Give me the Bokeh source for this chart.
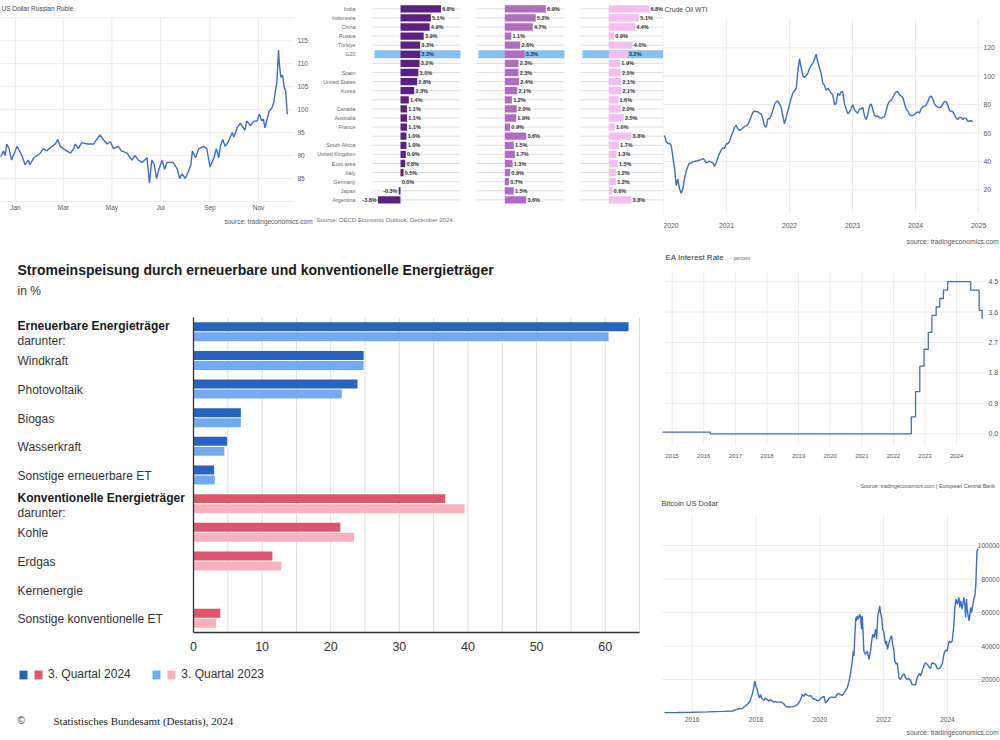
import pandas as pd
from bokeh.plotting import figure
from bokeh.layouts import row, column
from bokeh.models import (ColumnDataSource, Range1d, LabelSet, Label, Legend, LegendItem,
                          BoxAnnotation)
from bokeh.transform import dodge
from bokeh.core.properties import value
from bokeh.embed import file_html
from bokeh.resources import INLINE

SANS = "Liberation Sans"
SERIF = "Liberation Serif"

# ---------------- Destatis: Stromeinspeisung ----------------
energy_categories = ["Erneuerbare Energieträger", "Windkraft", "Photovoltaik", "Biogas",
                     "Wasserkraft", "Sonstige erneuerbare ET", "Konventionelle Energieträger",
                     "Kohle", "Erdgas", "Kernenergie", "Sonstige konventionelle ET"]
energy_group = ["ren", "ren", "ren", "ren", "ren", "ren", "con", "con", "con", "con", "con"]
share_q3_2024 = [63.4, 24.8, 23.9, 6.9, 4.9, 3.0, 36.7, 21.4, 11.5, 0.0, 3.9]
share_q3_2023 = [60.5, 24.8, 21.6, 6.9, 4.5, 3.1, 39.5, 23.4, 12.8, 0.0, 3.3]
legend_labels = ["3. Quartal 2024", "3. Quartal 2023"]
energy_xticks = [0, 10, 20, 30, 40, 50, 60]
energy_grid = [0, 5, 10, 15, 20, 25, 30, 35, 40, 45, 50, 55, 60, 65]

# ---------------- OECD GDP growth ----------------
oecd_countries = ["India", "Indonesia", "China", "Russia", "Türkiye", "G20", "", "Spain",
                  "United States", "Korea", "", "Canada", "Australia", "France", "",
                  "South Africa", "United Kingdom", "Euro area", "Italy", "Germany", "Japan",
                  "Argentina"]
oecd_2024 = [6.8, 5.1, 4.9, 3.9, 3.3, 3.3, 3.2, 3.0, 2.8, 2.3, 1.4, 1.1, 1.1, 1.1, 1.0,
             1.0, 0.9, 0.8, 0.5, 0.0, -0.3, -3.8]
oecd_2025 = [6.9, 5.2, 4.7, 1.1, 2.6, 3.3, 2.3, 2.3, 2.4, 2.1, 1.2, 2.0, 1.9, 0.9, 3.6,
             1.5, 1.7, 1.3, 0.9, 0.7, 1.5, 3.6]
oecd_2026 = [6.8, 5.1, 4.4, 0.9, 4.0, 3.2, 1.9, 2.0, 2.1, 2.1, 1.6, 2.0, 2.5, 1.0, 3.8,
             1.7, 1.3, 1.5, 1.2, 1.2, 0.6, 3.8]

# ---------------- US Dollar Russian Ruble ----------------
rub_dates = ["2023-12-13", "2023-12-17", "2023-12-19", "2023-12-21", "2023-12-24", "2023-12-27", "2024-01-03", "2024-01-09", "2024-01-13", "2024-01-17",
             "2024-01-19", "2024-01-24", "2024-02-01", "2024-02-05", "2024-02-09", "2024-02-16", "2024-02-20", "2024-02-23", "2024-02-26", "2024-03-05",
             "2024-03-10", "2024-03-14", "2024-03-16", "2024-03-20", "2024-03-24", "2024-03-31", "2024-04-08", "2024-04-12", "2024-04-16", "2024-04-20",
             "2024-04-25", "2024-04-29", "2024-05-03", "2024-05-09", "2024-05-13", "2024-05-20", "2024-05-26", "2024-05-30", "2024-06-03", "2024-06-08",
             "2024-06-14", "2024-06-17", "2024-06-20", "2024-06-23", "2024-06-26", "2024-06-29", "2024-07-03", "2024-07-06", "2024-07-09", "2024-07-17",
             "2024-07-22", "2024-07-25", "2024-07-28", "2024-08-01", "2024-08-05", "2024-08-08", "2024-08-10", "2024-08-14", "2024-08-18", "2024-08-24",
             "2024-08-28", "2024-09-01", "2024-09-06", "2024-09-09", "2024-09-12", "2024-09-14", "2024-09-17", "2024-09-20", "2024-09-24", "2024-09-29",
             "2024-10-01", "2024-10-05", "2024-10-09", "2024-10-15", "2024-10-17", "2024-10-22", "2024-10-26", "2024-10-30", "2024-11-02", "2024-11-05",
             "2024-11-07", "2024-11-09", "2024-11-14", "2024-11-18", "2024-11-20", "2024-11-22", "2024-11-24", "2024-11-26", "2024-11-27", "2024-11-29",
             "2024-12-01", "2024-12-03", "2024-12-05", "2024-12-07"]
rub_values = [89.6, 91, 90, 92.5, 91.5, 89, 92, 90, 88, 89,
              88, 89.5, 90.5, 91.5, 91, 92, 92.5, 93.5, 92, 91,
              90.5, 91.5, 92.5, 91.5, 92.8, 92.5, 92.5, 93.5, 94.5, 93.5,
              92.5, 93, 91.5, 92, 91, 90.5, 89, 90, 89, 88.5,
              89.5, 84, 89, 88, 85, 87, 89, 87, 88.5, 88.5,
              87, 85, 86, 85, 86.5, 88, 91, 89.5, 91.5, 92,
              91.5, 87.5, 89.5, 91.5, 89.5, 92, 93.5, 92, 93, 95,
              94, 96, 97, 95.5, 97.5, 96.5, 97.5, 97.5, 99, 97.5,
              98, 96, 99.5, 100.5, 101.5, 104, 106, 113, 110, 107,
              107.5, 105, 104, 99]
rub_yticks = [85, 90, 95, 100, 105, 110, 115]
rub_ygrid = [80, 85, 90, 95, 100, 105, 110, 115, 120]
rub_month_ticks = ["2024-01-01", "2024-03-01", "2024-05-01", "2024-07-01", "2024-09-01", "2024-11-01"]
rub_month_labels = ["Jan", "Mar", "May", "Jul", "Sep", "Nov"]

# ---------------- Crude Oil WTI (evenly spaced samples) ----------------
wti_first, wti_last = "2020-01-07", "2024-11-28"
wti_values = [58.3, 54, 52.5, 52.8, 51.2, 43, 35, 23, 27.7, 20.5,
              17.5, 20.7, 28, 33, 36.5, 39, 38.8, 39.8, 40, 40.3,
              40.5, 40.9, 41.3, 42, 41, 39, 39.5, 40, 39.5, 39,
              36.5, 39, 42.5, 45.5, 48, 49.5, 49, 52.4, 52.4, 54,
              58, 60.5, 64, 65.5, 63, 61.8, 62.5, 63.5, 64.5, 65,
              66, 68.5, 71.5, 74.5, 75.5, 75, 75, 74, 73.5, 70,
              65, 64, 70, 70, 72, 76, 80, 82, 82.5, 80.5,
              78, 72, 66.5, 71, 75.5, 80, 84.5, 88, 89.9, 91,
              103, 112.3, 106, 100.5, 99, 100.5, 102, 105.5, 107.5, 109,
              112, 115.5, 110, 106, 102, 95, 93.5, 90, 91.5, 90,
              88, 87, 80, 80.6, 88, 86.5, 89, 89, 80.5, 77,
              73.5, 75, 77, 80, 76.5, 75, 74, 77, 77, 78,
              72, 69.5, 73, 79, 80.5, 76.5, 72.5, 71.5, 72, 70.7,
              70.5, 71, 71.5, 75.5, 80, 82.5, 83, 85, 87.5, 89,
              89, 87, 86, 85, 81, 77, 75.5, 73, 72.3, 72.5,
              73, 74, 75, 74, 77, 78.5, 79, 79.5, 82, 85,
              86, 84, 80.5, 79, 78.2, 77.8, 78.3, 80.5, 82.3, 82,
              79.5, 76, 75.3, 75, 72.8, 70.5, 69.5, 71, 71, 69.5,
              70.5, 70.5, 68.3, 68.3, 68.8, 68]
wti_yticks = [20, 40, 60, 80, 100, 120]
wti_year_ticks = ["2020-01-01", "2021-01-01", "2022-01-01", "2023-01-01", "2024-01-01", "2025-01-01"]
wti_year_labels = ["2020", "2021", "2022", "2023", "2024", "2025"]

# ---------------- EA Interest Rate ----------------
ea_dates = ["2014-09-10", "2016-03-16", "2022-07-27", "2022-09-14", "2022-11-02", "2022-12-21",
            "2023-02-08", "2023-03-22", "2023-05-10", "2023-06-21", "2023-08-02", "2023-09-20",
            "2024-06-12", "2024-09-18", "2024-10-23"]
ea_rates = [0.05, 0.00, 0.50, 1.25, 2.00, 2.50, 3.00, 3.50, 3.75, 4.00, 4.25, 4.50, 4.25, 3.65, 3.40]
ea_yticks = [0.0, 0.9, 1.8, 2.7, 3.6, 4.5]
ea_year_ticks = ["2015-01-01", "2016-01-01", "2017-01-01", "2018-01-01", "2019-01-01",
                 "2020-01-01", "2021-01-01", "2022-01-01", "2023-01-01", "2024-01-01"]
ea_year_labels = ["2015", "2016", "2017", "2018", "2019", "2020", "2021", "2022", "2023", "2024"]

# ---------------- Bitcoin US Dollar ----------------
btc_years = [2015.13, 2015.53, 2016.00, 2016.47, 2016.99, 2017.25, 2017.46, 2017.57, 2017.67, 2017.75,
             2017.81, 2017.88, 2017.93, 2017.96, 2018.00, 2018.04, 2018.07, 2018.11, 2018.14, 2018.19,
             2018.25, 2018.30, 2018.35, 2018.40, 2018.46, 2018.51, 2018.56, 2018.61, 2018.66, 2018.72,
             2018.77, 2018.82, 2018.87, 2018.93, 2018.98, 2019.08, 2019.19, 2019.29, 2019.34, 2019.40,
             2019.45, 2019.50, 2019.55, 2019.61, 2019.66, 2019.71, 2019.76, 2019.81, 2019.87, 2019.92,
             2019.97, 2020.02, 2020.08, 2020.13, 2020.18, 2020.23, 2020.28, 2020.34, 2020.39, 2020.44,
             2020.49, 2020.55, 2020.60, 2020.65, 2020.70, 2020.75, 2020.81, 2020.86, 2020.91, 2020.96,
             2021.02, 2021.05, 2021.07, 2021.10, 2021.13, 2021.15, 2021.17, 2021.21, 2021.25, 2021.28,
             2021.31, 2021.33, 2021.36, 2021.38, 2021.43, 2021.49, 2021.54, 2021.59, 2021.62, 2021.66,
             2021.70, 2021.75, 2021.78, 2021.82, 2021.85, 2021.88, 2021.90, 2021.94, 2021.97, 2022.01,
             2022.06, 2022.09, 2022.12, 2022.17, 2022.22, 2022.25, 2022.29, 2022.32, 2022.35, 2022.40,
             2022.43, 2022.48, 2022.53, 2022.58, 2022.64, 2022.69, 2022.74, 2022.79, 2022.84, 2022.90,
             2022.95, 2023.00, 2023.05, 2023.11, 2023.14, 2023.16, 2023.21, 2023.26, 2023.31, 2023.37,
             2023.42, 2023.47, 2023.52, 2023.58, 2023.63, 2023.68, 2023.73, 2023.78, 2023.84, 2023.89,
             2023.94, 2023.99, 2024.05, 2024.10, 2024.15, 2024.20, 2024.23, 2024.27, 2024.31, 2024.36,
             2024.39, 2024.42, 2024.46, 2024.52, 2024.55, 2024.57, 2024.60, 2024.62, 2024.65, 2024.68,
             2024.73, 2024.76, 2024.79, 2024.83, 2024.86, 2024.89, 2024.91, 2024.93, 2024.96]
btc_kusd = [0.25, 0.3, 0.43, 0.65, 0.97, 1.2, 2.5, 2.7, 4.3, 5.5,
            7, 11, 15, 19, 16, 14, 11, 9, 11, 8.5,
            7.5, 9, 8, 7, 8, 7, 6.5, 7, 6.5, 6.5,
            6.5, 6.3, 5.5, 4, 3.7, 3.6, 3.8, 5, 6, 8,
            11, 10, 11.5, 10.5, 10, 10.5, 9, 8.5, 8, 7.3,
            7.5, 8.5, 9.5, 10, 6, 7, 8.5, 9.5, 9.5, 9.3,
            9.3, 11.5, 11.5, 11, 10.5, 11.5, 13.5, 15, 18.5, 23,
            31, 37, 34, 47, 57, 55, 58, 56, 59, 57,
            50, 58, 47, 37, 35, 37, 32, 37, 42, 47,
            45, 50, 44, 58, 61, 64, 60, 57, 50, 48,
            41, 43, 38, 42, 45, 46, 40, 38, 31, 29,
            30, 21, 20, 22, 23.5, 21, 20, 20.5, 19.5, 16.8,
            16.8, 17, 21, 23, 23.5, 22, 25, 28, 30, 29,
            27.5, 26.5, 30, 29.5, 29, 26.5, 26.5, 27, 29.5, 35,
            37.5, 37, 43, 42, 43, 52, 62, 68, 65, 69,
            63, 67, 62, 69, 64, 57, 68, 62, 58, 55,
            63, 60, 64, 68, 70, 76, 88, 97, 98]
btc_yticks = [20000, 40000, 60000, 80000, 100000]
btc_year_ticks = [2016, 2018, 2020, 2022, 2024]

# ---------------- styling / layout constants ----------------
TE_BLUE = "#3c6dcb"
EA_BLUE = "#4a6ea9"
TE_GRID = "#ebebeb"
TE_TEXT = "#555555"
BLUE_D, BLUE_L, RED_D, RED_L = "#2664bf", "#70abf0", "#de566b", "#f9b2bd"
OECD_COLORS = ["#5b2180", "#b06bc3", "#f5bdf0"]
G20_FILL = "#86c1f1"

# figure boxes in page pixels: (left, top, right, bottom)
RUB_BOX = (0, 0, 315, 248)
OECD_BOXES = [(315, 0, 470, 248), (470, 0, 574, 248), (574, 0, 663, 248)]
WTI_BOX = (663, 0, 1000, 248)
MAIN_BOX = (0, 248, 660, 740)
EA_BOX = (660, 248, 1000, 490)
BTC_BOX = (660, 490, 1000, 740)


def ms(d):
    return pd.Timestamp(d).value / 1e6


def lin(px, a_px, a_val, ppu):
    return a_val + (px - a_px) / ppu


def tim(px, a_px, a_ts, ppd):
    return pd.Timestamp(a_ts) + pd.Timedelta(days=(px - a_px) / ppd)


def make_fig(box, xr, yr, xtype="linear"):
    l, t, r, b = box
    p = figure(width=r - l, height=b - t, x_range=xr, y_range=yr, x_axis_type=xtype,
               x_axis_location=None, y_axis_location=None,
               min_border=0, min_border_left=0, min_border_right=0,
               min_border_top=0, min_border_bottom=0,
               output_backend="svg", toolbar_location=None)
    p.outline_line_color = None
    p.background_fill_color = "white"
    p.border_fill_color = "white"
    p.xgrid.visible = False
    p.ygrid.visible = False
    return p


def vlines(p, xs, y0, y1, color, width=1.0, level="image"):
    p.segment(x0=xs, x1=xs, y0=[y0] * len(xs), y1=[y1] * len(xs),
              line_color=color, line_width=width, level=level)


def hlines(p, ys, x0, x1, color, width=1.0, level="image"):
    p.segment(x0=[x0] * len(ys), x1=[x1] * len(ys), y0=ys, y1=ys,
              line_color=color, line_width=width, level=level)


def put(p, box, px, py, text, size, color="#333333", font=SANS, style="normal", align="left"):
    l, t, r, b = box
    p.add_layout(Label(x=px - l, y=b - py, x_units="screen", y_units="screen", text=text,
                       text_font=font, text_font_size=size, text_color=color,
                       text_font_style=style, text_baseline="middle", text_align=align))


def x_labels(p, box, xs, texts, py, size, color=TE_TEXT, align="center"):
    l, t, r, b = box
    src = ColumnDataSource(dict(x=xs, t=texts))
    p.add_layout(LabelSet(x="x", y=b - py, y_units="screen", text="t", source=src,
                          text_font=value(SANS), text_font_size=size, text_color=color,
                          text_baseline="middle", text_align=align))


def y_labels(p, box, ys, texts, px, size, color=TE_TEXT, align="left"):
    l, t, r, b = box
    src = ColumnDataSource(dict(y=ys, t=texts))
    p.add_layout(LabelSet(x=px - l, x_units="screen", y="y", text="t", source=src,
                          text_font=value(SANS), text_font_size=size, text_color=color,
                          text_baseline="middle", text_align=align))


# ---------------- RUB chart ----------------
RUB_X = (15, "2024-01-01", 0.797)
RUB_Y = (155, 90, 4.59)
l, t, r, b = RUB_BOX
rub = make_fig(RUB_BOX, Range1d(tim(l, *RUB_X), tim(r, *RUB_X)),
               Range1d(RUB_Y[1] + (RUB_Y[0] - b) / RUB_Y[2], RUB_Y[1] + (RUB_Y[0] - t) / RUB_Y[2]),
               xtype="datetime")
rub_ticks_ms = [ms(d) for d in rub_month_ticks]
rub_x0, rub_x1 = ms(tim(0, *RUB_X)), ms(tim(293, *RUB_X))
vlines(rub, rub_ticks_ms, rub_ygrid[0], rub_ygrid[-1], TE_GRID)
hlines(rub, rub_ygrid, rub_x0, rub_x1, TE_GRID)
rub.line(pd.to_datetime(rub_dates), rub_values, line_color=TE_BLUE, line_width=1.4)
x_labels(rub, RUB_BOX, rub_ticks_ms, rub_month_labels, 206.7, "6.5px")
y_labels(rub, RUB_BOX, rub_yticks, [str(v) for v in rub_yticks], 297, "6.5px")
put(rub, RUB_BOX, 1, 8, "US Dollar Russian Ruble", "6.5px", "#444444")
put(rub, RUB_BOX, 224, 221, "source: tradingeconomics.com", "6.5px", TE_TEXT)

# ---------------- OECD panels ----------------
idx = list(range(len(oecd_countries)))
g20 = oecd_countries.index("G20")
ROW0, ROWH = 8.3, 9.1
OECD_PPU = 5.95
OECD_ZERO = [400, 504.3, 608.3]
OECD_PLOT = [(372, 460), (476, 564), (580, 663)]
OECD_HIGHLIGHT = [(374, 460), (478, 564), (582, 663)]
oecd_vals = [oecd_2024, oecd_2025, oecd_2026]
oecd_figs = []
for k, box in enumerate(OECD_BOXES):
    l, t, r, b = box
    z = OECD_ZERO[k]
    x0, x1 = lin(OECD_PLOT[k][0], z, 0, OECD_PPU), lin(OECD_PLOT[k][1], z, 0, OECD_PPU)
    h0, h1 = lin(OECD_HIGHLIGHT[k][0], z, 0, OECD_PPU), lin(OECD_HIGHLIGHT[k][1], z, 0, OECD_PPU)
    p = make_fig(box, Range1d(lin(l, z, 0, OECD_PPU), lin(r, z, 0, OECD_PPU)),
                 Range1d((b - ROW0) / ROWH, (t - ROW0) / ROWH))
    hlines(p, idx, x0, x1, "#d4d4d4", width=0.8)
    p.add_layout(BoxAnnotation(left=h0, right=h1, top=g20 - 0.44, bottom=g20 + 0.44,
                               fill_color=G20_FILL, fill_alpha=1.0, line_color=None,
                               level="underlay"))
    vals = oecd_vals[k]
    src = ColumnDataSource(dict(y=idx, v=vals))
    p.hbar(y="y", left=0, right="v", height=0.8, source=src,
           fill_color=OECD_COLORS[k], line_color=None)
    pos = [i for i in idx if vals[i] >= 0]
    neg = [i for i in idx if vals[i] < 0]
    for sel, off, al in ((pos, 1.2, "left"), (neg, -1.2, "right")):
        s = ColumnDataSource(dict(y=sel, v=[vals[i] for i in sel],
                                  t=["%.1f%%" % vals[i] for i in sel]))
        p.add_layout(LabelSet(x="v", y="y", text="t", source=s, x_offset=off,
                              text_font=value(SANS), text_font_size="5.5px",
                              text_font_style="bold", text_color="#333333",
                              text_baseline="middle", text_align=al))
    if k == 0:
        ns = ColumnDataSource(dict(y=idx, t=oecd_countries))
        p.add_layout(LabelSet(x=355 - l, y="y", text="t", source=ns, x_units="screen",
                              text_font=value(SANS), text_font_size="5.4px",
                              text_color="#666666", text_baseline="middle", text_align="right"))
        put(p, box, 316, 219, "Source: OECD Economic Outlook, December 2024.", "6px", "#6a6f80")
    oecd_figs.append(p)

# ---------------- WTI chart ----------------
WTI_X = (663, "2020-01-01", 63 / 365.25)
WTI_Y = (189.3, 20, 1.42)
l, t, r, b = WTI_BOX
wti = make_fig(WTI_BOX, Range1d(tim(l, *WTI_X), tim(r, *WTI_X)),
               Range1d(WTI_Y[1] + (WTI_Y[0] - b) / WTI_Y[2], WTI_Y[1] + (WTI_Y[0] - t) / WTI_Y[2]),
               xtype="datetime")
wti_ticks_ms = [ms(d) for d in wti_year_ticks]
wti_ybot = WTI_Y[1] + (WTI_Y[0] - 213) / WTI_Y[2]
wti_ytop = WTI_Y[1] + (WTI_Y[0] - 18) / WTI_Y[2]
vlines(wti, wti_ticks_ms, wti_ybot, wti_ytop, TE_GRID)
hlines(wti, wti_yticks, ms(tim(663, *WTI_X)), ms(tim(982, *WTI_X)), TE_GRID)
wti.line(pd.date_range(wti_first, wti_last, periods=len(wti_values)), wti_values,
         line_color=TE_BLUE, line_width=1.4)
x_labels(wti, WTI_BOX, wti_ticks_ms[1:], wti_year_labels[1:], 225, "6.8px")
x_labels(wti, WTI_BOX, wti_ticks_ms[:1], wti_year_labels[:1], 225, "6.8px", align="left")
y_labels(wti, WTI_BOX, wti_yticks, [str(v) for v in wti_yticks], 983, "6.8px")
put(wti, WTI_BOX, 664, 9, "Crude Oil WTI", "6.8px", "#444444")
put(wti, WTI_BOX, 906, 240.7, "source: tradingeconomics.com", "6.8px", TE_TEXT)

# ---------------- EA interest rate ----------------
EA_X = (671.7, "2015-01-01", 31.6 / 365.25)
EA_Y = (433.3, 0.0, 33.82)
l, t, r, b = EA_BOX
ea = make_fig(EA_BOX, Range1d(tim(l, *EA_X), tim(r, *EA_X)),
              Range1d((EA_Y[0] - b) / EA_Y[2], (EA_Y[0] - t) / EA_Y[2]), xtype="datetime")
ea_ticks_ms = [ms(d) for d in ea_year_ticks]
vlines(ea, ea_ticks_ms, (EA_Y[0] - 445) / EA_Y[2], (EA_Y[0] - 272) / EA_Y[2], TE_GRID)
hlines(ea, ea_yticks, ms(tim(665, *EA_X)), ms(tim(983.3, *EA_X)), TE_GRID)
ea.step(pd.to_datetime(ea_dates), ea_rates, mode="after", line_color=EA_BLUE, line_width=1.3)
x_labels(ea, EA_BOX, ea_ticks_ms, ea_year_labels, 455, "6px")
y_labels(ea, EA_BOX, ea_yticks, ["%.1f" % v for v in ea_yticks], 988, "7px")
put(ea, EA_BOX, 665, 257, "EA Interest Rate", "8px", "#333333")
put(ea, EA_BOX, 730, 257.5, "- percent", "5px", "#666666")
put(ea, EA_BOX, 860, 485, "Source: tradingeconomics.com | European Central Bank", "5.4px", TE_TEXT)

# ---------------- Bitcoin ----------------
BTC_X = (691.7, 2016, 31.9)
BTC_Y = (712.5, 0, 1.675 / 1000)
l, t, r, b = BTC_BOX
btc = make_fig(BTC_BOX, Range1d(lin(l, *BTC_X), lin(r, *BTC_X)),
               Range1d((BTC_Y[0] - b) / BTC_Y[2], (BTC_Y[0] - t) / BTC_Y[2]))
vlines(btc, btc_year_ticks, 0, (BTC_Y[0] - 513.3) / BTC_Y[2], TE_GRID)
hlines(btc, btc_yticks, lin(662, *BTC_X), lin(982, *BTC_X), TE_GRID)
btc.line(btc_years, [v * 1000 for v in btc_kusd], line_color=TE_BLUE, line_width=1.4)
x_labels(btc, BTC_BOX, btc_year_ticks, [str(v) for v in btc_year_ticks], 719.3, "6.5px")
y_labels(btc, BTC_BOX, btc_yticks, [str(v) for v in btc_yticks], 999, "6.5px", align="right")
put(btc, BTC_BOX, 661, 503.3, "Bitcoin US Dollar", "7.5px", "#444444")
put(btc, BTC_BOX, 906, 732, "source: tradingeconomics.com", "6.8px", TE_TEXT)

# ---------------- Destatis main chart ----------------
MAIN_X = (193, 0, 446 / 65)
MROW0, MROWH = 331.3, 28.64
l, t, r, b = MAIN_BOX
main = make_fig(MAIN_BOX, Range1d(lin(l, *MAIN_X), lin(r, *MAIN_X)),
                Range1d((b - MROW0) / MROWH, (t - MROW0) / MROWH))
rows = list(range(len(energy_categories)))
row_lo, row_hi = -0.5, rows[-1] + 0.5
vlines(main, energy_grid, row_lo, row_hi, "#dddddd")

renderers = {}
for grp, (cd, cl) in (("ren", (BLUE_D, BLUE_L)), ("con", (RED_D, RED_L))):
    sel = [i for i, g in enumerate(energy_group) if g == grp]
    src = ColumnDataSource(dict(y=sel, a=[share_q3_2024[i] for i in sel],
                                b=[share_q3_2023[i] for i in sel]))
    r24 = main.hbar(y=dodge("y", -0.175), left=0, right="a", height=0.314, source=src,
                    fill_color=cd, line_color=None)
    r23 = main.hbar(y=dodge("y", 0.175), left=0, right="b", height=0.314, source=src,
                    fill_color=cl, line_color=None)
    renderers[grp] = (r24, r23)

# axis lines (x axis along the bottom of the rows, y axis at zero)
hlines(main, [row_hi], 0, energy_grid[-1], "#333333", width=1.3, level="overlay")
vlines(main, [0], row_lo, row_hi, "#333333", width=1.3, level="overlay")

grp_rows = [i for i, c in enumerate(energy_categories) if c.endswith("Energieträger")]
sub_rows = [i for i in rows if i not in grp_rows]
gsrc = ColumnDataSource(dict(y=grp_rows, t=[energy_categories[i] for i in grp_rows],
                             d=["darunter:"] * len(grp_rows)))
ssrc = ColumnDataSource(dict(y=sub_rows, t=[energy_categories[i] for i in sub_rows]))
for src, col, off, style, colr in ((gsrc, "t", 6, "bold", "#1a1a1a"), (gsrc, "d", -9, "normal", "#333333"),
                                   (ssrc, "t", -1, "normal", "#333333")):
    main.add_layout(LabelSet(x=17, y="y", text=col, source=src, x_units="screen", y_offset=off,
                             text_font=value(SANS), text_font_size="12px", text_font_style=style,
                             text_color=colr, text_baseline="middle", text_align="left"))
x_labels(main, MAIN_BOX, energy_xticks, [str(v) for v in energy_xticks], 646, "12.5px", "#333333")

put(main, MAIN_BOX, 17, 269, "Stromeinspeisung durch erneuerbare und konventionelle Energieträger",
    "14px", "#1a1a1a", style="bold")
put(main, MAIN_BOX, 17, 290, "in %", "12px", "#333333")

for (gx, lab, key) in ((18, legend_labels[0], 0), (151.3, legend_labels[1], 1)):
    leg = Legend(items=[LegendItem(label="", renderers=[renderers["ren"][key]]),
                        LegendItem(label=lab, renderers=[renderers["con"][key]])],
                 location=(gx - l, b - 681), orientation="horizontal", padding=0, margin=0,
                 spacing=-2, label_standoff=5, glyph_width=10, glyph_height=11,
                 label_width=0, label_height=11, border_line_color=None,
                 background_fill_alpha=0, label_text_font=SANS,
                 label_text_font_size="12px", label_text_color="#333333")
    main.add_layout(leg)

put(main, MAIN_BOX, 17, 720, "©", "10px", "#333333")
put(main, MAIN_BOX, 53, 720, "Statistisches Bundesamt (Destatis), 2024", "11px", "#222222", font=SERIF)

layout = column(row(rub, oecd_figs[0], oecd_figs[1], oecd_figs[2], wti),
                row(main, column(ea, btc)))

open("out.html", "w").write(file_html(layout, INLINE, title="Charts"))
